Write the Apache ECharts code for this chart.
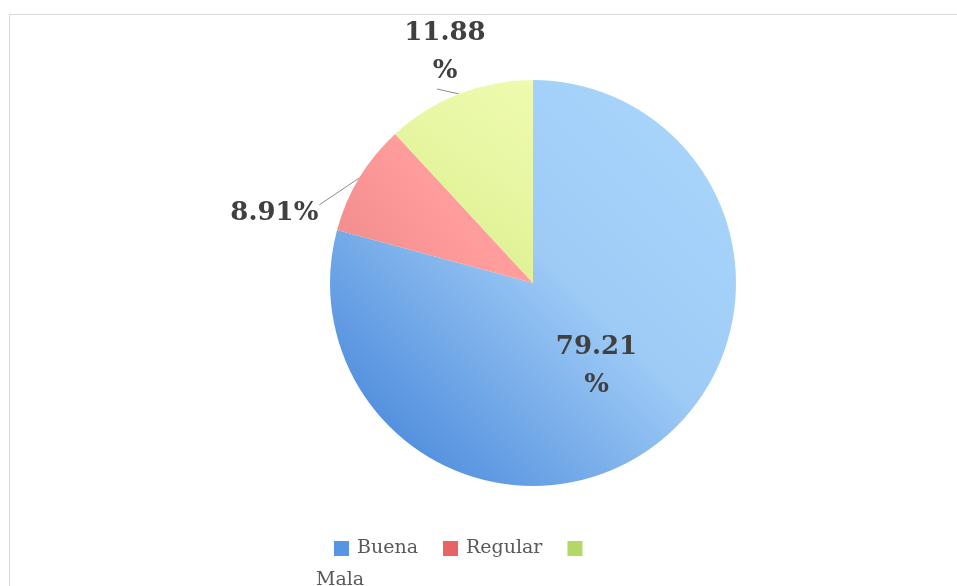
<!DOCTYPE html>
<html>
<head>
<meta charset="utf-8">
<script src="https://cdn.jsdelivr.net/npm/echarts@6/dist/echarts.min.js"></script>
<style>
  html, body { margin: 0; padding: 0; background: #fff; }
  #chart { width: 957px; height: 586px; }
</style>
</head>
<body>
<div id="chart"></div>
<script>
// Categories and their shares (%)
const categories = ['Buena', 'Regular', 'Mala'];
const shares = [79.21, 8.91, 11.88];

// Slice fills: gradient stops per category, plus a flat swatch for the legend
const fills = {
  Buena: ['#acd8fd', '#9ecbf6', '#3a7cd6'],
  Regular: ['#ffa8a8', '#ff9c9c', '#f08a8a'],
  Mala: ['#eefbb0', '#e6f6a0', '#d6ec88']
};
const swatches = { Buena: '#5595e2', Regular: '#e86464', Mala: '#b4d866' };

const FONT = '"DejaVu Serif", serif';
const TEXT = '#404040';

function grad(c) {
  return new echarts.graphic.LinearGradient(1, 0, 0, 1, [
    { offset: 0, color: c[0] },
    { offset: 0.45, color: c[1] },
    { offset: 1, color: c[2] }
  ]);
}

const labelFor = {
  Buena: { position: 'inside', formatter: '{c}\n%' },
  Regular: { position: 'outside', formatter: '{c}%' },
  Mala: { position: 'outside', formatter: '{c}\n%' }
};

const data = categories.map((name, i) => ({
  name,
  value: shares[i],
  itemStyle: { color: grad(fills[name]) },
  label: labelFor[name]
}));

const chart = echarts.init(document.getElementById('chart'));
chart.setOption({
  backgroundColor: '#ffffff',
  animation: false,
  graphic: [{
    type: 'rect',
    shape: { x: 9.5, y: 14.5, width: 960, height: 600 },
    style: { fill: 'none', stroke: '#d9d9d9', lineWidth: 1 },
    silent: true
  }],
  legend: [{
    data: categories.map(n => ({ name: n, itemStyle: { color: swatches[n] } })),
    left: 329,
    top: 534,
    itemWidth: 15,
    itemHeight: 15,
    itemGap: 25,
    icon: 'rect',
    formatter: n => (n === 'Mala' ? '' : n),
    textStyle: { fontFamily: FONT, fontSize: 19, color: '#595959', padding: [0, 0, 0, 3] }
  }, {
    data: [{ name: 'Mala', icon: 'none' }],
    left: 306,
    top: 566,
    itemWidth: 0,
    itemHeight: 15,
    textStyle: { fontFamily: FONT, fontSize: 19, color: '#595959' }
  }],
  series: [{
    type: 'pie',
    center: [533, 283],
    radius: [0, 203],
    startAngle: 90,
    clockwise: true,
    avoidLabelOverlap: false,
    data,
    label: {
      fontFamily: FONT,
      fontSize: 26,
      fontWeight: 'bold',
      color: TEXT,
      lineHeight: 38
    },
    labelLine: {
      show: true,
      length: 12,
      length2: 20,
      lineStyle: { color: '#8c8c8c', width: 1 }
    },
    // Leader lines run from the slice edge to a label set off to one side
    labelLayout: function (p) {
      const pts = p.labelLinePoints;
      if (!pts || p.dataIndex === 0) return {};
      const e = pts[0];
      if (p.dataIndex === 1) {
        return {
          x: e[0] - 41, y: e[1] + 35, align: 'right', verticalAlign: 'middle',
          labelLinePoints: [e, [e[0] - 40, e[1] + 27], [e[0] - 40, e[1] + 27]]
        };
      }
      return {
        x: e[0] - 14, y: e[1] - 42, align: 'center', verticalAlign: 'middle',
        labelLinePoints: [e, [e[0] - 22, e[1] - 5], [e[0] - 22, e[1] - 5]]
      };
    }
  }]
});
</script>
</body>
</html>
